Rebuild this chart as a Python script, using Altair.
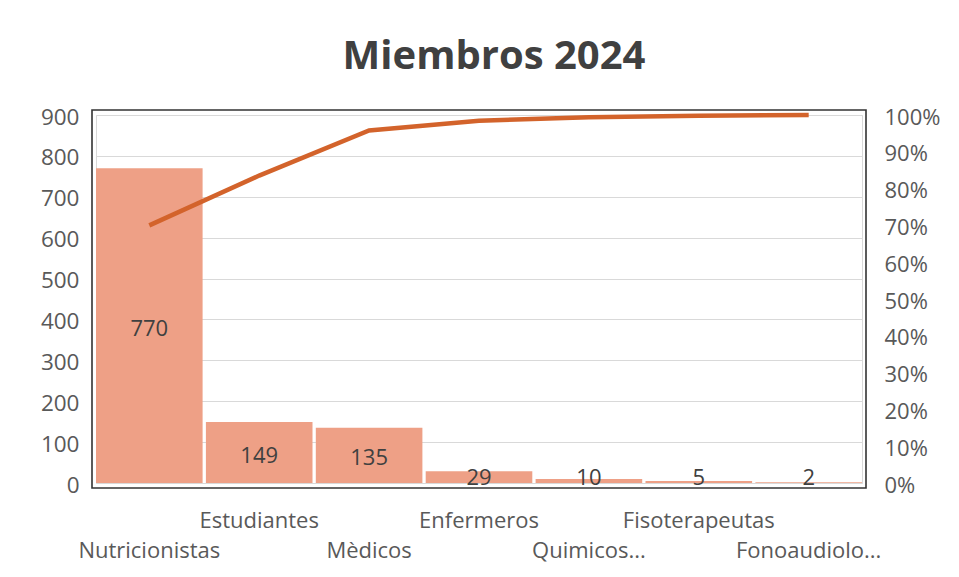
import altair as alt
import pandas as pd

categories = ["Nutricionistas", "Estudiantes", "Mèdicos", "Enfermeros",
              "Quimicos...", "Fisoterapeutas", "Fonoaudiolo..."]
counts = [770, 149, 135, 29, 10, 5, 2]
left_ticks = list(range(0, 1000, 100))
right_ticks = [i / 10 for i in range(0, 11)]

W, H = 766, 368
FONT = "Open Sans"

df = pd.DataFrame({"cat": categories, "count": counts})
df["idx"] = range(len(df))
df["cum"] = df["count"].cumsum() / df["count"].sum()
df["row"] = df["idx"] % 2

base = alt.Chart(df)
xenc = alt.X("cat:N", sort=categories,
             scale=alt.Scale(paddingInner=0.03, paddingOuter=0.0),
             axis=None)

bars = base.mark_bar(color="#EEA086").encode(
    x=xenc,
    y=alt.Y("count:Q", scale=alt.Scale(domain=[0, 900], nice=False),
            axis=alt.Axis(orient="left", values=left_ticks, title=None,
                          grid=True, gridColor="#D9D9D9", gridWidth=1.2,
                          ticks=False, domain=False, labelFont=FONT,
                          labelFontSize=22.5, labelColor="#595959",
                          labelPadding=17, labelOffset=2)),
)

bar_text = base.transform_calculate(
    ypos="max(datum.count / 2, 20)"
).mark_text(font=FONT, fontSize=22, color="#404040", baseline="middle", dy=3).encode(
    x=xenc,
    y=alt.Y("ypos:Q", scale=alt.Scale(domain=[0, 900], nice=False), axis=None),
    text=alt.Text("count:Q"),
)

line = base.mark_line(color="#D3632B", strokeWidth=4.5, strokeCap="butt").encode(
    x=xenc,
    y=alt.Y("cum:Q", scale=alt.Scale(domain=[0, 1], nice=False),
            axis=alt.Axis(orient="right", values=right_ticks, format=".0%",
                          title=None, grid=False, ticks=False, domain=False,
                          labelFont=FONT, labelFontSize=22, labelColor="#595959",
                          labelPadding=22, labelAlign="left", labelOffset=2)),
)

lab_upper = base.transform_filter("datum.row == 1").mark_text(
    font=FONT, fontSize=22, color="#595959", baseline="middle"
).encode(x=xenc, y=alt.value(H + 38), text="cat:N")

lab_lower = base.transform_filter("datum.row == 0").mark_text(
    font=FONT, fontSize=22, color="#595959", baseline="middle"
).encode(x=xenc, y=alt.value(H + 68), text="cat:N")

title_df = pd.DataFrame({"t": ["Miembros 2024"]})
title = alt.Chart(title_df).mark_text(
    font=FONT, fontSize=40, fontWeight="bold", color="#404040",
    align="center", baseline="alphabetic"
).encode(x=alt.value(398), y=alt.value(-46), text="t:N")

frame = alt.Chart(title_df).mark_rect(
    fill=None, stroke="#333333", strokeWidth=1.6
).encode(x=alt.value(-4), x2=alt.value(W + 4), y=alt.value(-5), y2=alt.value(H + 5))

chart = alt.layer(bars, bar_text, line, lab_upper, lab_lower, title, frame).resolve_scale(
    y="independent"
).properties(
    width=W, height=H,
    autosize=alt.AutoSizeParams(type="none"),
    padding={"left": 88, "top": 107, "right": 85, "bottom": 85},
).configure_view(stroke="#D9D9D9", strokeWidth=1)

chart.save("out.html", embed_options={"renderer": "svg", "actions": False})
